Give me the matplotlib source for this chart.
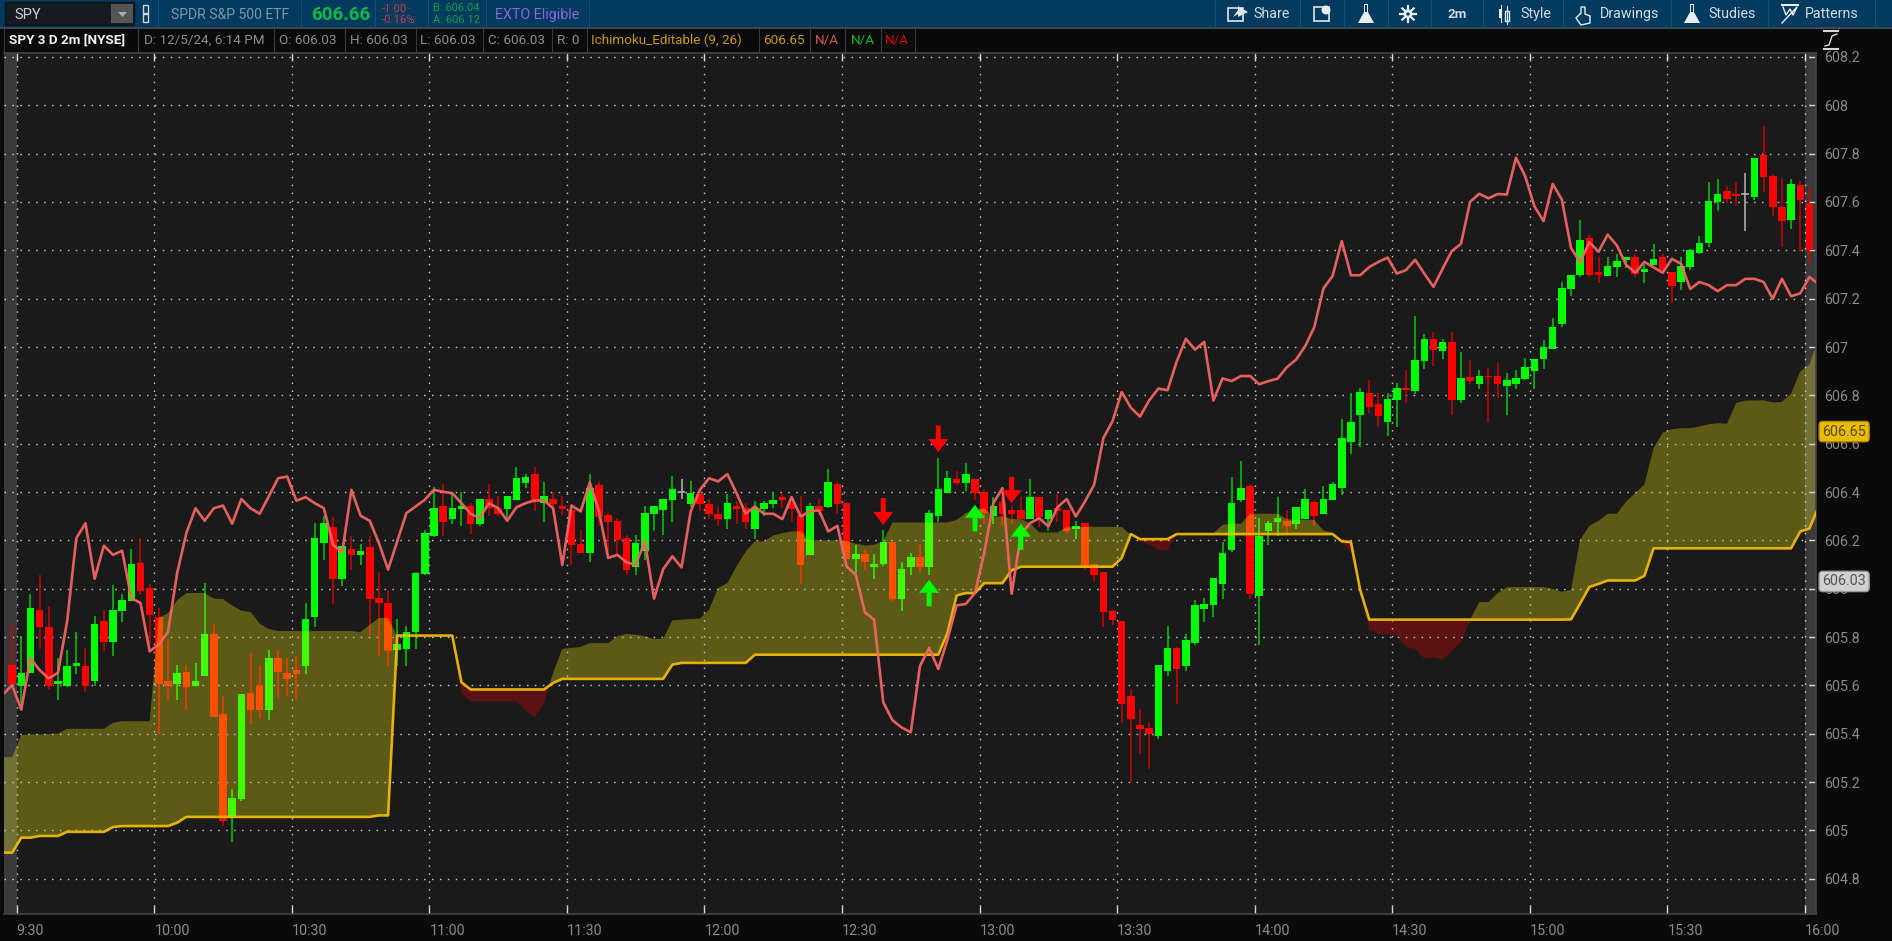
import numpy as np
import matplotlib
matplotlib.use("Agg")
import matplotlib.pyplot as plt
from matplotlib.path import Path
from matplotlib.patches import Rectangle, Polygon, Circle

plt.rcParams['font.family'] = ['Roboto', 'DejaVu Sans']

# ---------- data (2-minute bars; the first candle is the bar before 9:30) ----------
opens = [605.683,605.596,605.65,605.91,605.843,605.607,605.596,605.679,605.682,605.617,605.865,605.778,605.906,605.949,606.106,606.003,605.883,605.617,605.607,605.657,605.596,605.638,605.813,605.482,605.052,605.131,605.569,605.601,605.497,605.713,605.652,605.663,605.679,605.882,606.191,606.255,606.041,606.164,606.139,606.172,605.961,605.941,605.745,605.752,605.82,606.061,606.216,606.343,
606.288,606.331,606.344,606.269,606.371,606.333,606.331,606.365,606.437,606.474,606.354,606.371,606.344,606.326,606.185,606.147,606.427,606.303,606.282,606.211,606.088,606.154,606.31,606.324,606.365,606.4,606.351,606.391,606.35,606.309,606.288,606.343,606.333,606.247,606.331,606.351,606.38,606.354,606.306,606.139,606.344,606.34,606.433,606.354,606.123,606.143,606.091,
606.102,606.194,605.957,606.088,606.132,606.088,606.299,606.398,606.453,606.439,606.453,606.399,606.299,606.358,606.324,606.324,606.288,606.379,606.288,606.333,606.324,606.247,606.271,606.103,606.07,605.906,605.865,605.555,605.435,605.424,605.39,605.658,605.755,605.679,605.775,605.916,605.931,606.021,606.161,606.365,606.423,605.968,606.237,606.274,606.281,606.269,606.289,606.36,606.31,606.365,
606.416,606.609,606.718,606.809,606.764,606.688,606.779,606.83,606.816,606.941,607.032,606.982,607.022,606.779,606.877,606.847,606.881,606.881,606.837,606.847,606.867,606.899,606.95,606.992,607.095,607.24,607.297,607.452,607.312,607.293,607.33,607.358,607.373,607.309,607.34,607.373,607.312,607.268,607.333,607.39,607.431,607.599,607.644,607.633,607.631,607.619,607.793,607.706,607.581,607.525,607.669,607.592]
closes = [605.607,605.65,605.92,605.84,605.596,605.62,605.682,605.693,605.596,605.854,605.778,605.91,605.952,606.102,605.989,605.89,605.607,605.596,605.652,605.592,605.62,605.813,605.468,605.039,605.135,605.565,605.497,605.497,605.713,605.657,605.627,605.647,605.875,606.209,606.271,606.041,606.178,606.139,606.157,605.959,605.939,605.741,605.77,605.821,606.065,606.23,606.333,606.278,
606.333,606.344,606.269,606.371,606.333,606.31,606.382,606.457,606.464,606.361,606.382,606.35,606.331,606.18,606.147,606.416,606.296,606.278,606.2,606.078,606.188,606.313,606.344,606.371,606.412,606.4,606.395,606.351,606.31,606.288,606.354,606.329,606.278,606.333,606.354,606.365,606.365,606.331,606.098,606.344,606.32,606.443,606.351,606.123,606.143,606.109,606.102,
606.194,605.957,606.081,606.132,606.088,606.313,606.412,606.457,606.437,606.474,606.398,606.313,606.343,606.31,606.31,606.288,606.379,606.296,606.324,606.32,606.237,606.26,606.092,606.056,605.902,605.872,605.521,605.461,605.42,605.4,605.683,605.755,605.668,605.787,605.931,605.937,606.044,606.147,606.354,606.416,605.979,606.219,606.271,606.292,606.258,606.34,606.371,606.299,606.371,606.433,
606.623,606.691,606.815,606.75,606.713,606.785,606.83,606.822,606.945,607.032,606.986,607.022,606.779,606.872,606.858,606.881,606.874,606.847,606.862,606.872,606.917,606.95,607.0,607.084,607.244,607.297,607.442,607.297,607.297,607.334,607.354,607.373,607.304,607.323,607.365,607.32,607.251,607.337,607.402,607.43,607.602,607.634,607.613,607.624,607.631,607.783,607.702,607.581,607.521,607.675,607.608,607.402]
highs = [605.854,605.803,605.98,606.055,605.93,605.713,605.745,605.822,605.755,605.886,605.91,606.015,605.979,606.164,606.209,606.019,605.92,605.792,605.683,605.683,605.693,606.023,605.854,605.555,605.172,605.565,605.734,605.683,605.745,605.745,605.713,605.723,605.941,606.271,606.302,606.296,606.178,606.219,606.186,606.219,606.07,605.993,605.875,605.844,606.069,606.241,606.42,606.433,
606.4,606.4,606.354,606.371,606.433,606.382,606.382,606.503,606.475,606.503,606.443,606.402,606.382,606.326,606.241,606.475,606.443,606.313,606.292,606.222,606.222,606.344,606.344,606.371,606.468,606.453,606.444,606.391,606.371,606.34,606.391,606.361,606.354,606.361,606.361,606.4,606.391,606.382,606.382,606.354,606.371,606.494,606.443,606.354,606.182,606.164,606.143,
606.241,606.194,606.11,606.147,606.185,606.324,606.54,606.485,606.485,606.519,606.453,606.412,606.379,606.379,606.343,606.379,606.453,606.379,606.324,606.391,606.324,606.282,606.271,606.103,606.07,605.91,605.865,605.585,605.503,605.45,605.683,605.844,605.759,605.813,605.952,605.961,606.044,606.194,606.464,606.53,606.433,606.292,606.282,606.379,606.324,606.34,606.412,606.368,606.423,606.443,
606.702,606.809,606.83,606.862,606.809,606.809,606.851,606.903,607.13,607.054,607.064,607.032,607.064,606.981,606.945,606.903,606.913,606.934,606.892,606.903,606.954,606.95,607.028,607.12,607.269,607.297,607.525,607.463,607.373,607.373,607.383,607.373,607.384,607.343,607.428,607.384,607.312,607.373,607.407,607.461,607.684,607.696,607.666,607.684,607.718,607.783,607.914,607.714,607.696,607.696,607.686,607.664]
lows = [605.6,605.528,605.65,605.75,605.58,605.54,605.594,605.649,605.572,605.596,605.741,605.72,605.861,605.949,605.975,605.773,605.4,605.539,605.539,605.497,605.596,605.638,605.468,605.018,604.952,605.121,605.442,605.459,605.456,605.548,605.558,605.539,605.647,605.84,606.117,605.938,606.01,606.076,606.098,605.81,605.72,605.679,605.679,605.679,605.752,606.056,606.213,606.216,
606.269,606.258,606.227,606.258,606.299,606.299,606.292,606.365,606.416,606.32,606.278,606.306,606.306,606.098,606.147,606.109,606.258,606.147,606.14,606.058,606.056,606.12,606.237,606.222,606.278,606.371,606.34,606.32,606.288,606.258,606.247,606.269,606.247,606.205,606.299,606.333,606.333,606.278,606.021,606.139,606.306,606.333,606.31,606.123,606.065,606.079,606.04,
606.092,605.948,605.906,606.056,606.065,606.056,606.278,606.398,606.427,606.406,606.365,606.269,606.269,606.258,606.269,606.288,606.288,606.255,606.237,606.278,606.23,606.205,606.079,606.03,605.842,605.851,605.445,605.2,605.318,605.252,605.379,605.638,605.521,605.658,605.766,605.861,605.882,605.957,606.15,606.357,605.957,605.769,606.179,606.216,606.227,606.247,606.289,606.258,606.31,606.365,
606.388,606.557,606.588,606.729,606.667,606.63,606.667,606.768,606.807,606.909,606.92,606.95,606.718,606.768,606.847,606.826,606.688,606.791,606.718,606.826,606.862,606.826,606.909,606.992,607.083,607.21,607.289,607.289,607.265,607.293,607.289,607.325,607.289,607.265,607.34,607.309,607.18,607.235,607.319,607.383,607.412,607.562,607.597,607.587,607.479,607.608,607.64,607.541,607.412,607.489,607.392,607.348]

# lines run one bar further on each side than the candles
pink_line = [605.562,605.601,605.5,605.713,605.663,605.629,605.652,605.865,606.209,606.271,606.041,606.178,606.14,606.157,605.961,605.941,605.741,605.769,605.821,606.065,606.23,606.333,606.281,606.333,606.344,606.269,606.371,606.333,606.31,606.382,606.457,606.464,606.364,606.379,606.354,606.333,606.182,606.15,606.409,606.302,606.281,606.189,606.079,606.196,606.313,606.34,606.368,606.409,606.401,606.395,
606.354,606.31,606.292,606.354,606.333,606.281,606.337,606.354,606.365,606.365,606.333,606.098,606.344,606.32,606.439,606.32,606.127,606.14,606.109,606.099,606.196,605.959,606.081,606.134,606.088,606.32,606.409,606.457,606.444,606.474,606.395,606.31,606.34,606.31,606.31,606.288,606.379,606.299,606.32,606.324,606.237,606.26,606.092,606.058,605.902,605.872,
605.53,605.456,605.426,605.406,605.68,605.755,605.668,605.789,605.931,605.937,605.982,606.147,606.354,606.416,605.979,606.223,606.271,606.292,606.258,606.337,606.371,606.299,606.361,606.43,606.623,606.693,606.814,606.749,606.712,606.779,606.828,606.821,606.94,607.034,606.989,607.021,606.779,606.87,606.859,606.88,606.88,606.846,606.859,606.869,606.916,606.947,607.003,607.082,607.242,607.294,
607.438,607.297,607.297,607.331,607.352,607.37,607.304,607.318,607.361,607.304,607.249,607.324,607.397,607.427,607.601,607.634,607.615,607.633,607.631,607.783,607.707,607.583,607.521,607.675,607.61,607.41,607.351,607.434,607.394,607.465,607.42,607.341,607.307,607.352,607.33,607.307,607.365,607.344,607.24,607.269,607.256,607.231,607.256,607.256,607.282,607.282,607.269,607.2,607.282,607.21,607.222,607.29,607.26]
cloud_edge = [605.303,605.303,605.394,605.397,605.397,605.399,605.401,605.42,605.42,605.42,605.42,605.42,605.445,605.452,605.452,605.452,605.452,605.879,605.899,605.952,605.982,605.982,605.982,605.959,605.957,605.931,605.909,605.904,605.855,605.833,605.825,605.825,605.825,605.825,605.825,605.825,605.825,605.825,605.825,605.82,605.851,605.879,605.879,605.803,605.806,605.806,605.806,605.806,605.806,605.806,
605.566,605.534,605.534,605.534,605.534,605.534,605.534,605.497,605.466,605.528,605.652,605.751,605.755,605.759,605.775,605.775,605.775,605.803,605.813,605.81,605.803,605.792,605.793,605.869,605.872,605.875,605.876,605.913,606.003,606.023,606.092,606.154,606.196,606.196,606.22,606.23,606.237,606.237,606.202,606.2,606.2,606.2,606.198,606.186,606.179,606.182,
606.196,606.274,606.274,606.274,606.274,606.274,606.274,606.274,606.285,606.313,606.326,606.333,606.299,606.299,606.288,606.288,606.271,606.233,606.233,606.233,606.255,606.255,606.256,606.256,606.256,606.256,606.255,606.223,606.196,606.182,606.161,606.158,606.226,606.226,606.226,606.226,606.23,606.264,606.269,606.269,606.31,606.31,606.31,606.31,606.288,606.285,606.285,606.285,606.241,606.233,
606.189,606.154,605.996,605.828,605.813,605.81,605.807,605.759,605.751,605.711,605.716,605.707,605.741,605.78,605.872,605.945,605.945,605.982,606.006,606.007,606.007,606.007,606.007,605.999,605.987,605.996,606.203,606.26,606.281,606.31,606.31,606.36,606.396,606.431,606.581,606.646,606.66,606.664,606.664,606.671,606.68,606.685,606.682,606.768,606.778,606.779,606.779,606.771,606.773,606.807,606.899,606.927,607.037]
yellow_line = [604.908,604.908,604.97,604.97,604.977,604.977,604.977,604.994,604.994,604.994,604.994,604.994,605.014,605.018,605.018,605.018,605.018,605.018,605.018,605.032,605.056,605.056,605.056,605.056,605.056,605.056,605.056,605.056,605.056,605.056,605.056,605.056,605.056,605.056,605.056,605.056,605.056,605.056,605.056,605.056,605.056,605.062,605.062,605.806,605.806,605.806,605.806,605.806,605.806,605.806,
605.613,605.583,605.583,605.583,605.583,605.583,605.583,605.583,605.583,605.583,605.61,605.627,605.627,605.627,605.627,605.627,605.627,605.627,605.627,605.627,605.627,605.627,605.627,605.686,605.693,605.693,605.693,605.693,605.693,605.693,605.693,605.693,605.727,605.727,605.727,605.727,605.727,605.727,605.727,605.727,605.727,605.727,605.727,605.727,605.727,605.727,
605.727,605.727,605.727,605.727,605.727,605.727,605.727,605.817,605.972,605.982,605.982,606.023,606.023,606.023,606.076,606.091,606.091,606.091,606.091,606.091,606.091,606.091,606.091,606.091,606.091,606.091,606.127,606.226,606.205,606.205,606.205,606.205,606.226,606.226,606.226,606.226,606.226,606.226,606.226,606.226,606.226,606.226,606.226,606.226,606.226,606.226,606.226,606.226,606.226,606.226,
606.196,606.193,605.996,605.872,605.872,605.872,605.872,605.872,605.872,605.872,605.872,605.872,605.872,605.872,605.872,605.872,605.872,605.872,605.872,605.872,605.872,605.872,605.872,605.872,605.872,605.873,605.939,606.007,606.02,606.034,606.034,606.034,606.034,606.053,606.167,606.167,606.167,606.167,606.167,606.167,606.167,606.167,606.167,606.167,606.167,606.167,606.167,606.167,606.167,606.167,606.237,606.249,606.339]

down_arrow_bars = [94, 100, 108]
down_arrow_tips = [606.264, 606.565, 606.354]
down_arrow_tails = [606.375, 606.675, 606.463]
up_arrow_bars = [99, 104, 109]
up_arrow_tips = [606.037, 606.347, 606.269]
up_arrow_tails = [605.927, 606.237, 606.161]

time_labels = ['9:30','10:00','10:30','11:00','11:30','12:00','12:30','13:00','13:30','14:00','14:30','15:00','15:30','16:00']
price_ticks = [604.8,605,605.2,605.4,605.6,605.8,606,606.2,606.4,606.6,606.8,607,607.2,607.4,607.6,607.8,608,608.2]
price_labels = ['604.8','605','605.2','605.4','605.6','605.8','606','606.2','606.4','606.6','606.8','607','607.2','607.4','607.6','607.8','608','608.2']
last_kumo = 606.65
last_close = 606.03

W, H = 1892, 941
fig = plt.figure(figsize=(W/100, H/100), dpi=100, facecolor='#0a0a0a')

# ---------- application chrome (pixel coordinates) ----------
ui = fig.add_axes([0, 0, 1, 1], zorder=0)
ui.set_xlim(0, W); ui.set_ylim(H, 0); ui.axis('off')
ui.add_patch(Rectangle((0, 0), W, 28, fc='#003a5e', ec='none'))
ui.add_patch(Rectangle((0, 28), 1815, 24, fc='#0a0a0a', ec='none'))
ui.add_patch(Rectangle((0, 27), W, 1.5, fc='#3a4a55', ec='none'))
ui.add_patch(Rectangle((5, 2), 129, 23, fc='#141c22', ec='#0a1418', lw=1))
ui.add_patch(Rectangle((111, 4), 22, 19, fc='#555555', ec='none'))
ui.add_patch(Polygon([[118, 12], [127, 12], [122.5, 17]], fc='#aaaaaa', ec='none'))
ui.add_patch(Rectangle((143, 5), 5, 8, fc='none', ec='#cfd8dc', lw=1))
ui.add_patch(Rectangle((143, 14), 5, 8, fc='none', ec='#cfd8dc', lw=1))
for sx in [158, 301, 375, 428, 486, 589]:
    ui.plot([sx, sx], [0, 27], color='#0f4f78', lw=0.8)

def T(x, y, s, color, size=10.5, weight='normal', ha='left'):
    ui.text(x, y, s, color=color, fontsize=size, fontweight=weight, ha=ha, va='center')

T(14, 14.5, 'SPY', '#c8d0d4', 10.5)
T(171, 14.5, 'SPDR S&P 500 ETF', '#7f97a6', 10.1)
T(311, 15, '606.66', '#10b848', 13.6, 'bold')
T(382, 9, '-1.00', '#c8404c', 8.2)
T(382, 20, '-0.16%', '#c8404c', 8.2)
T(433, 8, 'B: 606.04', '#12a04a', 8)
T(433, 20, 'A: 606.12', '#12a04a', 8)
T(495, 14.5, 'EXTO Eligible', '#8a68d8', 10.3)

T(9, 40.5, 'SPY 3 D 2m [NYSE]', '#f0f0f0', 9.7, 'bold')
T(144, 40.5, 'D: 12/5/24, 6:14 PM', '#8c8c8c', 9.7)
T(279, 40.5, 'O: 606.03', '#8c8c8c', 9.7)
T(350, 40.5, 'H: 606.03', '#8c8c8c', 9.7)
T(420, 40.5, 'L: 606.03', '#8c8c8c', 9.7)
T(488, 40.5, 'C: 606.03', '#8c8c8c', 9.7)
T(557, 40.5, 'R: 0', '#8c8c8c', 9.7)
T(591, 40.5, 'Ichimoku_Editable (9, 26)', '#c89a0c', 9.7)
T(763, 40.5, '606.65', '#c89a0c', 9.7)
T(815, 40.5, 'N/A', '#d45a5a', 9.7)
T(851, 40.5, 'N/A', '#10c020', 9.7)
T(885, 40.5, 'N/A', '#d01010', 9.7)
for sx in [4, 138, 274, 345, 416, 483, 552, 587, 759, 810, 845, 881, 915]:
    ui.plot([sx, sx], [29, 52], color='#3a3a3a', lw=0.8)

for sx in [1215, 1300, 1344, 1388, 1431, 1483, 1563, 1671, 1768, 1875]:
    ui.plot([sx, sx], [0, 27], color='#0f5078', lw=0.8)
T(1253, 14, 'Share', '#d2dce2', 10.3)
T(1457, 14, '2m', '#d2dce2', 9.6, 'bold', 'center')
T(1520, 14, 'Style', '#d2dce2', 10.3)
T(1600, 14, 'Drawings', '#d2dce2', 10.3)
T(1708, 14, 'Studies', '#d2dce2', 10.3)
T(1805, 14, 'Patterns', '#d2dce2', 10.3)

def flask(cx):
    ui.add_patch(Polygon([[cx-2, 4], [cx+2, 4], [cx+2, 12], [cx+8, 23], [cx-8, 23], [cx-2, 12]], fc='#e8eef2', ec='none'))
    ui.add_patch(Rectangle((cx-1.2, 5), 2.4, 7, fc='#003a5e', ec='none'))
flask(1366); flask(1692)
# Share box + arrow
ui.add_patch(Rectangle((1228, 8), 15, 13, fc='none', ec='#e0e6ea', lw=1.2))
ui.add_patch(Polygon([[1233, 17], [1238, 10], [1238, 6], [1248, 12], [1238, 17], [1238, 14]], fc='#e0e6ea', ec='none'))
ui.add_patch(Rectangle((1314, 7), 15, 14, fc='none', ec='#e0e6ea', lw=1.2))
ui.add_patch(Circle((1326, 10), 4.5, fc='#e8eef2', ec='none'))
ui.add_patch(Circle((1408, 14), 4.5, fc='#e8eef2', ec='none'))
for a in np.arange(0, 2*np.pi, np.pi/4):
    ui.plot([1408+4*np.cos(a), 1408+8*np.cos(a)], [14+4*np.sin(a), 14+8*np.sin(a)], color='#e8eef2', lw=1.6)
ui.add_patch(Circle((1408, 14), 1.7, fc='#003a5e', ec='none'))
ui.add_patch(Rectangle((1499, 9), 3, 9, fc='#e8eef2', ec='none'))
ui.add_patch(Rectangle((1505, 11), 4, 10, fc='none', ec='#e8eef2', lw=1))
ui.plot([1500.5, 1500.5], [5, 22], color='#e8eef2', lw=0.8)
ui.plot([1507, 1507], [6, 24], color='#e8eef2', lw=0.8)
ui.add_patch(Polygon([[1581, 13], [1581, 7], [1585, 7], [1585, 14], [1590, 16], [1590, 23], [1581, 25], [1576, 18]], fc='none', ec='#e8eef2', lw=1))
ui.plot([1782, 1798], [5, 5], color='#e8eef2', lw=1.5)
ui.plot([1783, 1786, 1790, 1793, 1797, 1782], [7, 15, 9, 15, 7, 23], color='#e8eef2', lw=1)
# scale icon
ui.plot([1824, 1838], [31, 31], color='#d8d8d8', lw=1.5)
ui.plot([1824, 1838], [49, 49], color='#d8d8d8', lw=1.5)
ui.plot([1825, 1829, 1832, 1837], [46, 45, 36, 34], color='#d8d8d8', lw=1)
for cx in [1582, 1768]:
    pass

# ---------- chart panel ----------
left, right, top, bottom = 4, 1816, 53, 914
ax = fig.add_axes([left/W, 1-bottom/H, (right-left)/W, (bottom-top)/H], zorder=1, facecolor='#1a1a1a')
slot_px = 9.17
ax.set_xlim((left-16.7)/slot_px, (right-16.7)/slot_px)
ax.set_ylim(606 - (bottom-588.7)/241.7, 606 + (588.7-top)/241.7)

candle_x = np.arange(-1, len(opens)-1) + 0.5
line_x = np.arange(-2, len(pink_line)-2) + 0.5
o, c, hi, lo = map(np.array, (opens, closes, highs, lows))
a, b = np.array(cloud_edge), np.array(yellow_line)

# cloud
cloud_up = ax.fill_between(line_x, a, b, where=a >= b, interpolate=True, color='#5c5a14', lw=0, zorder=1)
cloud_dn = ax.fill_between(line_x, a, b, where=a < b, interpolate=True, color='#5c1212', lw=0, zorder=1)
cloud_path = Path.make_compound_path(*cloud_up.get_paths())

# gridlines on top of the cloud
ax.set_axisbelow('line')
ax.set_xticks(np.arange(0, 196, 15), time_labels)
ax.set_yticks(price_ticks, price_labels)
ax.grid(True, color='#c4c4c4', lw=1, linestyle=(0, (1.1, 4.6)))
ax.yaxis.tick_right()
ax.tick_params(axis='y', direction='in', length=5, width=1, color='#cfcfcf', labelcolor='#8a8a8a', labelsize=10.3, pad=6, right=True, left=False)
ax.tick_params(axis='x', direction='in', length=6, width=1, color='#d8d8d8', labelcolor='#8a8a8a', labelsize=10.3, pad=7, top=True, bottom=True)
for lab in ax.get_xticklabels():
    lab.set_ha('left')
for name, sp in ax.spines.items():
    sp.set_color('#444444'); sp.set_linewidth(1.2)
ax.spines['left'].set_visible(False)

# lighter extended-hours bands
ax.axvspan(ax.get_xlim()[0], 0, color='white', alpha=0.14, lw=0, zorder=1.6)
ax.axvspan(195, ax.get_xlim()[1], color='white', alpha=0.14, lw=0, zorder=1.6)

# candles
is_up = c > o
is_down = c < o
is_flat = c == o
bw = 0.82
for mask, col, wick, col_in, wick_in in [(is_up, '#00ff00', '#00cc00', '#40ff00', '#40e000'),
                                          (is_down, '#ff0000', '#d00000', '#ff5000', '#e05000')]:
    ax.vlines(candle_x[mask], lo[mask], hi[mask], color=wick, lw=1.1, zorder=2)
    ax.bar(candle_x[mask], np.abs(c-o)[mask], bottom=np.minimum(o, c)[mask], width=bw, color=col, lw=0, zorder=2.1)
    # the same candle, where it shows through the cloud
    vl = ax.vlines(candle_x[mask], lo[mask], hi[mask], color=wick_in, lw=1.1, zorder=2.2)
    vl.set_clip_path(cloud_path, ax.transData)
    bars = ax.bar(candle_x[mask], np.abs(c-o)[mask], bottom=np.minimum(o, c)[mask], width=bw, color=col_in, lw=0, zorder=2.3)
    for r in bars:
        r.set_clip_path(cloud_path, ax.transData)
ax.vlines(candle_x[is_flat], lo[is_flat], hi[is_flat], color='#b8b8b8', lw=1.1, zorder=2.4)
ax.hlines(c[is_flat], candle_x[is_flat]-bw/2, candle_x[is_flat]+bw/2, color='#b8b8b8', lw=1.1, zorder=2.4)

# lines
ax.plot(line_x, b, color='#eeb908', lw=1.9, zorder=3.5, alpha=0.95, solid_joinstyle='round')
ax.plot(line_x, pink_line, color='#f26464', lw=1.9, zorder=3.6, alpha=0.95, solid_joinstyle='round')

# arrows
for bars_i, tips, tails, col in [(down_arrow_bars, down_arrow_tips, down_arrow_tails, '#ff0000'),
                                 (up_arrow_bars, up_arrow_tips, up_arrow_tails, '#00ff00')]:
    for i, tip, tail in zip(bars_i, tips, tails):
        ax.annotate('', xy=(i+0.5, tip), xytext=(i+0.5, tail),
                    arrowprops=dict(width=3.6, headwidth=14.4, headlength=9.4, shrink=0, fc=col, ec='none'), zorder=5)

# last-value bubbles on the price axis
tr = ax.get_yaxis_transform()
for val, fc, ec, tc, s in [(last_close, '#d0d0d0', '#9a9a9a', '#555555', '606.03'),
                           (last_kumo, '#e8bb08', '#b08a00', '#5a4a00', '606.65')]:
    ax.text(1.00345, val, s, transform=tr, ha='left', va='center', color=tc, fontsize=10.3, clip_on=False, zorder=6,
            bbox=dict(boxstyle='round,pad=0.22,rounding_size=0.25', fc=fc, ec=ec, lw=1))

fig.savefig('out.png', dpi=100, facecolor=fig.get_facecolor())
